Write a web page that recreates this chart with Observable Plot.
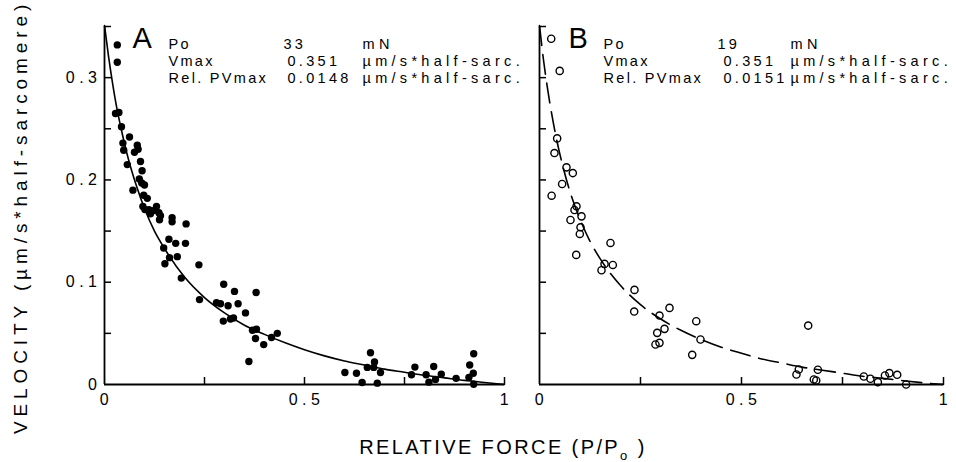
<!DOCTYPE html>
<html>
<head>
<meta charset="utf-8">
<script src="https://cdn.jsdelivr.net/npm/d3@7"></script>
<script src="https://cdn.jsdelivr.net/npm/@observablehq/plot@0.6"></script>
<style>
  body { margin: 0; background: #fff; }
  #wrap { position: relative; width: 956px; height: 462px; background: #fff; overflow: hidden;
          font-family: "Liberation Sans", Arial, sans-serif; color: #000; }
  #wrap svg { position: absolute; top: 0; overflow: visible; background: transparent; }
  #wrap g[aria-label="x-axis tick label"] text,
  #wrap g[aria-label="y-axis tick label"] text { letter-spacing: 4.5px; }
  #wrap g[aria-label="text"] text { letter-spacing: 3.3px; }
  .ylab { position: absolute; left: 20px; top: 217px; transform: translate(-50%, -50%) rotate(-90deg);
          font-size: 19px; letter-spacing: 4.9px; white-space: nowrap; line-height: 1; }
  .xlab { position: absolute; left: 503px; top: 437px; transform: translateX(-50%);
          font-size: 20px; letter-spacing: 2.4px; white-space: nowrap; line-height: 1; }
  .xlab sub { font-size: 13px; vertical-align: -6px; line-height: 0; }
</style>
</head>
<body>
<div id="wrap"></div>
<script>
// ---------- data ----------
// Panel A (filled dots): relative force P/Po and velocity
const forceA = [0.032,0.032,0.0275,0.036,0.0425,0.0625,0.046,0.048,0.082,0.084,0.075,0.057,0.09,0.094,0.087,0.093,0.071,0.100,0.098,0.107,0.096,0.101,0.115,0.111,0.13,0.136,0.14,0.122,0.1375,0.169,0.169,0.204,0.161,0.178,0.2025,0.148,0.1625,0.182,0.151,0.192,0.236,0.298,0.325,0.379,0.2375,0.28,0.29,0.309,0.334,0.3525,0.297,0.315,0.3225,0.37,0.38,0.3775,0.398,0.4175,0.432,0.361,0.601,0.63,0.644,0.665,0.657,0.675,0.673,0.69,0.682,0.776,0.7675,0.804,0.823,0.811,0.8275,0.842,0.879,0.913,0.923,0.911,0.922,0.923];
const velocityA = [0.332,0.315,0.265,0.266,0.252,0.242,0.236,0.229,0.234,0.230,0.227,0.215,0.218,0.209,0.201,0.197,0.190,0.195,0.185,0.182,0.174,0.171,0.167,0.171,0.174,0.168,0.165,0.170,0.161,0.163,0.159,0.157,0.142,0.138,0.138,0.1335,0.124,0.125,0.118,0.104,0.117,0.098,0.091,0.090,0.083,0.080,0.079,0.077,0.079,0.070,0.062,0.064,0.065,0.053,0.054,0.045,0.039,0.046,0.050,0.0225,0.0118,0.011,0.002,0.031,0.0167,0.022,0.0167,0.0118,0.0013,0.017,0.0095,0.0095,0.0176,0.0023,0.005,0.010,0.006,0.019,0.030,0.007,0.011,0.0003];

// Panel B (open circles)
const forceB = [0.029,0.050,0.0437,0.037,0.0668,0.0825,0.056,0.030,0.0916,0.0866,0.104,0.0767,0.1015,0.0998,0.0909,0.1757,0.161,0.1815,0.1535,0.2351,0.2344,0.3218,0.297,0.388,0.2913,0.3094,0.2871,0.297,0.3985,0.378,0.6651,0.6418,0.636,0.689,0.679,0.685,0.8028,0.819,0.8375,0.855,0.866,0.8854,0.9075];
const velocityB = [0.338,0.3066,0.2406,0.2263,0.2123,0.2067,0.196,0.1846,0.1742,0.1706,0.1644,0.1608,0.1537,0.1472,0.1267,0.1384,0.1179,0.1169,0.1117,0.0925,0.0713,0.0749,0.0674,0.0619,0.0505,0.0544,0.0391,0.0407,0.0440,0.029,0.0576,0.0147,0.0098,0.0144,0.0049,0.0039,0.0078,0.0056,0.0023,0.0088,0.0111,0.0095,0.0];

// Fitted curves
const curveForce = [0,0.01,0.02,0.03,0.04,0.06,0.08,0.1,0.125,0.15,0.2,0.25,0.3,0.35,0.4,0.45,0.5,0.55,0.6,0.65,0.7,0.75,0.8,0.85,0.9,0.95,1];
const curveVelA  = [0.351,0.321,0.295,0.272,0.253,0.220,0.194,0.172,0.150,0.133,0.105,0.085,0.070,0.058,0.049,0.041,0.034,0.028,0.023,0.019,0.015,0.012,0.009,0.0065,0.004,0.002,0];
const curveVelB  = [0.351,0.317,0.289,0.265,0.244,0.210,0.183,0.162,0.140,0.123,0.097,0.078,0.064,0.053,0.044,0.0365,0.0305,0.025,0.021,0.017,0.014,0.011,0.008,0.006,0.0037,0.0017,0];

// Ticks
const xTickMarks = [0.25, 0.5, 0.75, 1];
const xTickLabels = [0, 0.5, 1];
const yTickMarks = [0.05, 0.1, 0.15, 0.2, 0.25, 0.3, 0.35];
const yTickLabels = [0, 0.1, 0.2, 0.3];

// Annotations
const infoNames = ["Po", "Vmax", "Rel. PVmax"];
const infoValuesA = ["33", "0.351", "0.0148"];
const infoValuesB = ["19", "0.351", "0.0151"];
const infoUnits = ["mN", "\u00b5m/s*half-sarc.", "\u00b5m/s*half-sarc."];

// ---------- drawing ----------
const FONT = "'Liberation Sans', Arial, sans-serif";
const H = 462, MT = 26, MB = 78, YMAX = 0.35;
const plotH = H - MT - MB;
const tickLen = 7;
const fmt = d => String(d);

function panel({width, ml, mr, force, vel, curveVel, open, letter, values, labelsY, valueDx, unitDx}) {
  const pw = width - ml - mr;
  const pts = force.map((f, i) => ({f, v: vel[i]}));
  const curve = curveForce.map((f, i) => ({f, v: curveVel[i]}));
  const infoMarks = [];
  infoNames.forEach((name, i) => {
    const dy = 22 + 17 * i;
    const common = {frameAnchor: "top-left", lineAnchor: "bottom", textAnchor: "start", fontSize: 14.5, fontFamily: FONT, fill: "black", dy};
    infoMarks.push(Plot.text([name], {...common, text: d => d, dx: 64}));
    infoMarks.push(Plot.text([values[i]], {...common, text: d => d, dx: valueDx[i]}));
    infoMarks.push(Plot.text([infoUnits[i]], {...common, text: d => d, dx: unitDx}));
  });
  const svg = Plot.plot({
    width, height: H,
    marginLeft: ml, marginRight: mr, marginTop: MT, marginBottom: MB,
    style: {fontFamily: FONT, fontSize: "16px", color: "black", background: "transparent", overflow: "visible"},
    x: {domain: [0, 1], axis: null},
    y: {domain: [0, YMAX], axis: null},
    marks: [
      Plot.ruleX([0], {stroke: "black", strokeWidth: 1.8}),
      Plot.ruleY([0], {stroke: "black", strokeWidth: 1.8}),
      Plot.ruleY(yTickMarks, {y: d => d, x1: 0, x2: tickLen / pw, stroke: "black", strokeWidth: 1.5}),
      Plot.ruleX(xTickMarks, {x: d => d, y1: 0, y2: tickLen * YMAX / plotH, stroke: "black", strokeWidth: 1.5}),
      Plot.axisX(xTickLabels, {tickSize: 0, tickPadding: 9, dx: 2, label: null, fontSize: 16, tickFormat: fmt}),
      labelsY ? Plot.axisY(yTickLabels, {tickSize: 0, tickPadding: 3, label: null, fontSize: 16, tickFormat: fmt}) : null,
      Plot.line(curve, {x: "f", y: "v", curve: "monotone-x", stroke: "black", strokeWidth: 1.6,
        strokeDasharray: open ? "20,9" : null}),
      open
        ? Plot.dot(pts, {x: "f", y: "v", r: 3.6, stroke: "black", strokeWidth: 1.4, fill: "none"})
        : Plot.dot(pts, {x: "f", y: "v", r: 3.7, fill: "black", stroke: "none"}),
      Plot.text([letter], {text: d => d, frameAnchor: "top-left", lineAnchor: "bottom", textAnchor: "start",
        dx: open ? 29 : 28, dy: 21, fontSize: 29, fontFamily: FONT, fill: "black"}),
      ...infoMarks
    ]
  });
  // per-column letter spacing to mimic the plotter font widths
  d3.select(svg).selectAll('g[aria-label="text"] text').each(function() {
    const t = this.textContent;
    if (infoUnits.includes(t)) this.style.letterSpacing = "4.3px";
    else if (infoNames.includes(t)) this.style.letterSpacing = "2.3px";
  });
  return svg;
}

const wrap = document.getElementById("wrap");

const svgA = panel({width: 520, ml: 104, mr: 16, force: forceA, vel: velocityA, curveVel: curveVelA,
  open: false, letter: "A", values: infoValuesA, labelsY: true, valueDx: [179, 183, 183], unitDx: 258});
svgA.style.left = "0px";
wrap.appendChild(svgA);

const svgB = panel({width: 436, ml: 19, mr: 13, force: forceB, vel: velocityB, curveVel: curveVelB,
  open: true, letter: "B", values: infoValuesB, labelsY: false, valueDx: [178, 184, 184], unitDx: 251});
svgB.style.left = "520px";
wrap.appendChild(svgB);

const yl = document.createElement("div");
yl.className = "ylab";
yl.textContent = "VELOCITY (\u00b5m/s*half-sarcomere)";
wrap.appendChild(yl);

const xl = document.createElement("div");
xl.className = "xlab";
xl.innerHTML = "RELATIVE FORCE (P/P<sub>o</sub>&nbsp;)";
wrap.appendChild(xl);
</script>
</body>
</html>
